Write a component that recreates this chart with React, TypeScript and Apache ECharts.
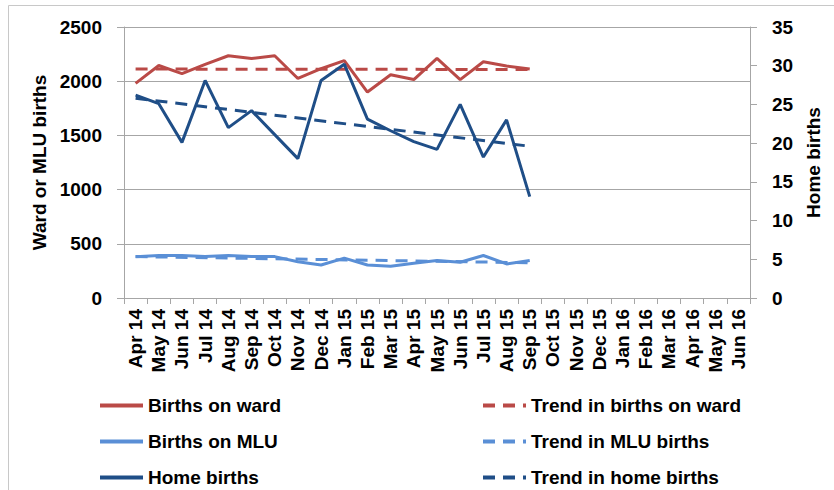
import React, { useEffect, useRef } from "react";
import * as echarts from "echarts";

const categories = [
  "Apr 14", "May 14", "Jun 14", "Jul 14", "Aug 14", "Sep 14", "Oct 14", "Nov 14", "Dec 14",
  "Jan 15", "Feb 15", "Mar 15", "Apr 15", "May 15", "Jun 15", "Jul 15", "Aug 15", "Sep 15",
  "Oct 15", "Nov 15", "Dec 15", "Jan 16", "Feb 16", "Mar 16", "Apr 16", "May 16", "Jun 16",
];

const wardBirths = [1980, 2145, 2070, 2155, 2235, 2210, 2235, 2025, 2115, 2190, 1900, 2060, 2015, 2210, 2015, 2180, 2140, 2112];
const mluBirths = [380, 392, 392, 382, 392, 382, 382, 335, 305, 368, 304, 292, 320, 345, 330, 392, 314, 345];
const homeBirths = [26.2, 25.1, 20.1, 28.1, 22.0, 24.2, 21.1, 18.0, 28.1, 30.2, 23.1, 21.6, 20.2, 19.2, 25.0, 18.2, 23.0, 13.1];

// trend lines: value at first and last month of data
const trendStart = "Apr 14";
const trendEnd = "Sep 15";
const wardTrend = [2112, 2108];
const mluTrend = [382, 325];
const homeTrend = [25.8, 19.6];

const leftTicks = { min: 0, max: 2500, interval: 500 };
const rightTicks = { min: 0, max: 35, interval: 5 };

const RED = "#BA4A47";
const LIGHT = "#5A8FD6";
const DARK = "#1F4E87";
const GRAY = "#A6A6A6";
const FONT = "'Liberation Sans', Arial, sans-serif";

export default function App() {
  const ref = useRef<HTMLDivElement>(null);
  useEffect(() => {
    if (!ref.current) return;
    const chart = echarts.init(ref.current, undefined, { renderer: "svg" });
    const legendText = { fontSize: 19, fontWeight: "bold", color: "#000", fontFamily: FONT };
    const mkLegend = (name: string, left: number, top: number) => ({
      data: [name],
      left,
      top,
      padding: 0,
      itemWidth: 43,
      itemHeight: 14,
      itemGap: 4,
      itemStyle: { opacity: 0 },
      lineStyle: { width: 4 },
      textStyle: legendText,
      selectedMode: false,
    });
    const trend = (vals: number[]) => [
      [trendStart, vals[0]],
      [trendEnd, vals[1]],
    ];
    const plain = (v: number) => String(v);
    chart.setOption({
      animation: false,
      textStyle: { fontFamily: FONT },
      grid: { left: 124, right: 84, top: 27, bottom: 192, containLabel: false },
      graphic: [
        { type: "line", shape: { x1: 8.5, y1: 5.5, x2: 834, y2: 5.5 }, style: { stroke: "#C8C8C8", lineWidth: 1 } },
        { type: "line", shape: { x1: 8.5, y1: 5.5, x2: 8.5, y2: 490 }, style: { stroke: "#C8C8C8", lineWidth: 1 } },
      ],
      legend: [
        mkLegend("Births on ward", 98, 396),
        mkLegend("Births on MLU", 98, 432),
        mkLegend("Home births", 98, 468),
        mkLegend("Trend in births on ward", 481, 396),
        mkLegend("Trend in MLU births", 481, 432),
        mkLegend("Trend in home births", 481, 468),
      ],
      xAxis: {
        type: "category",
        data: categories,
        boundaryGap: true,
        axisLine: { lineStyle: { color: GRAY, width: 1 } },
        axisTick: { show: true, length: 6, lineStyle: { color: GRAY } },
        axisLabel: {
          rotate: 90,
          interval: 0,
          margin: 11,
          fontSize: 19,
          fontWeight: "bold",
          color: "#000",
          fontFamily: FONT,
        },
        splitLine: { show: false },
      },
      yAxis: [
        {
          type: "value",
          ...leftTicks,
          position: "left",
          name: "Ward or MLU births",
          nameLocation: "middle",
          nameRotate: 90,
          nameGap: 63,
          nameTextStyle: { fontSize: 19, fontWeight: "bold", color: "#000", fontFamily: FONT },
          axisLine: { show: true, lineStyle: { color: GRAY } },
          axisTick: { show: true, length: 7, lineStyle: { color: GRAY } },
          axisLabel: { margin: 22, fontSize: 19, fontWeight: "bold", color: "#000", fontFamily: FONT, formatter: plain },
          splitLine: { show: true, lineStyle: { color: GRAY, width: 1 } },
        },
        {
          type: "value",
          ...rightTicks,
          position: "right",
          name: "Home births",
          nameLocation: "middle",
          nameRotate: 90,
          nameGap: 51,
          nameTextStyle: { fontSize: 19, fontWeight: "bold", color: "#000", fontFamily: FONT },
          axisLine: { show: true, lineStyle: { color: GRAY } },
          axisTick: { show: true, length: 7, lineStyle: { color: GRAY } },
          axisLabel: { margin: 22, fontSize: 19, fontWeight: "bold", color: "#000", fontFamily: FONT, formatter: plain },
          splitLine: { show: false },
        },
      ],
      series: [
        {
          name: "Births on ward",
          type: "line",
          data: wardBirths,
          symbol: "none",
          lineStyle: { color: RED, width: 3 },
          itemStyle: { color: RED },
        },
        {
          name: "Trend in births on ward",
          type: "line",
          data: trend(wardTrend),
          symbol: "none",
          lineStyle: { color: RED, width: 3, type: [12, 8] },
          itemStyle: { color: RED },
        },
        {
          name: "Births on MLU",
          type: "line",
          data: mluBirths,
          symbol: "none",
          lineStyle: { color: LIGHT, width: 3 },
          itemStyle: { color: LIGHT },
        },
        {
          name: "Trend in MLU births",
          type: "line",
          data: trend(mluTrend),
          symbol: "none",
          lineStyle: { color: LIGHT, width: 3, type: [12, 8] },
          itemStyle: { color: LIGHT },
        },
        {
          name: "Home births",
          type: "line",
          yAxisIndex: 1,
          data: homeBirths,
          symbol: "none",
          lineStyle: { color: DARK, width: 3 },
          itemStyle: { color: DARK },
        },
        {
          name: "Trend in home births",
          type: "line",
          yAxisIndex: 1,
          data: trend(homeTrend),
          symbol: "none",
          lineStyle: { color: DARK, width: 3, type: [12, 8] },
          itemStyle: { color: DARK },
        },
      ],
    });
    return () => chart.dispose();
  }, []);
  return (
    <div
      ref={ref}
      style={{ position: "absolute", left: 0, top: 0, width: 834, height: 490, background: "#fff" }}
    />
  );
}
